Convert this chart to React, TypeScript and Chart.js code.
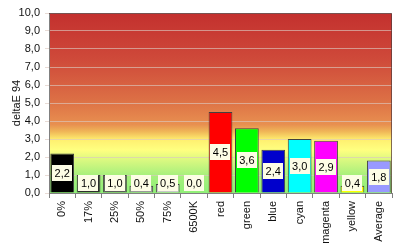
import React, { useEffect, useRef } from "react";
import { Chart, registerables } from "chart.js";

Chart.register(...registerables);

const categories = ["0%", "17%", "25%", "50%", "75%", "6500K", "red", "green", "blue", "cyan", "magenta", "yellow", "Average"];
const deltaE = [2.2, 1.0, 1.0, 0.4, 0.5, 0.0, 4.5, 3.6, 2.4, 3.0, 2.9, 0.4, 1.8];
const barColors = ["#000000", "#2e2e2e", "#5e5e5e", "#9a9a9a", "#c8c8c8", "#ffffff", "#ff0000", "#00ff00", "#0000cc", "#00ffff", "#ff00ff", "#ffff00", "#9999ff"];
const yMin = 0;
const yMax = 10;
const yStep = 1;
const yTitle = "deltaE 94";

// background gradient stops: [value, colour]
const bgStops: [number, string][] = [
  [10, "#c3302e"],
  [7.4, "#cf4a3a"],
  [5.2, "#dc6f45"],
  [3.8, "#e89050"],
  [3.4, "#f0b858"],
  [2.95, "#fff070"],
  [2.4, "#ffff80"],
  [1.8, "#d8f880"],
  [1.0, "#a8f07c"],
  [0, "#90f078"],
];

const fmt = (v: number) => v.toFixed(1).replace(".", ",");

const FONT = "'Liberation Sans', Arial, sans-serif";

const bgPlugin = {
  id: "bgGradient",
  beforeDraw(chart: any) {
    const { ctx, chartArea } = chart;
    const y = chart.scales.y;
    const top = chartArea.top;
    const bottom = chartArea.bottom;
    const g = ctx.createLinearGradient(0, top, 0, bottom);
    bgStops.forEach(([v, c]) => {
      const p = (y.getPixelForValue(v) - top) / (bottom - top);
      g.addColorStop(Math.min(1, Math.max(0, p)), c);
    });
    ctx.save();
    ctx.fillStyle = g;
    ctx.fillRect(chartArea.left, top, chartArea.right - chartArea.left, bottom - top);
    ctx.restore();
  },
  afterDatasetsDraw(chart: any) {
    const { ctx, chartArea } = chart;
    ctx.save();
    ctx.strokeStyle = "rgba(90,60,60,0.75)";
    ctx.lineWidth = 1;
    ctx.beginPath();
    ctx.moveTo(chartArea.left, chartArea.top + 0.5);
    ctx.lineTo(chartArea.right - 0.5, chartArea.top + 0.5);
    ctx.lineTo(chartArea.right - 0.5, chartArea.bottom);
    ctx.stroke();
    // value labels
    const meta = chart.getDatasetMeta(0);
    ctx.font = `11px ${FONT}`;
    ctx.textAlign = "center";
    ctx.textBaseline = "middle";
    meta.data.forEach((bar: any, i: number) => {
      const { x, y, base } = bar.getProps(["x", "y", "base"], true);
      const mid = (y + base) / 2;
      const cy = Math.min(mid, base - 10);
      const text = fmt(deltaE[i]);
      const w = ctx.measureText(text).width + 5;
      const h = 16;
      ctx.fillStyle = "#fdfde6";
      ctx.fillRect(Math.round(x - w / 2), Math.round(cy - h / 2), Math.round(w), h);
      ctx.fillStyle = "#000000";
      ctx.fillText(text, x, cy + 1);
    });
    ctx.restore();
  },
};

export default function App() {
  const ref = useRef<HTMLCanvasElement>(null);
  useEffect(() => {
    document.body.style.margin = "0";
    const chart = new Chart(ref.current!, {
      type: "bar",
      data: {
        labels: categories,
        datasets: [
          {
            data: deltaE,
            backgroundColor: barColors,
            borderColor: "#404040",
            borderWidth: 1,
            barPercentage: 0.9,
            categoryPercentage: 1,
          },
        ],
      },
      options: {
        animation: false,
        responsive: false,
        maintainAspectRatio: false,
        layout: { padding: { top: 13, right: 8, left: 10, bottom: 0 } },
        plugins: { legend: { display: false }, tooltip: { enabled: false } },
        scales: {
          x: {
            grid: { display: true, drawOnChartArea: false, drawTicks: true, tickLength: 5, color: "#808080", offset: true },
            border: { display: true, color: "#808080" },
            ticks: {
              minRotation: 90,
              maxRotation: 90,
              autoSkip: false,
              color: "#111111",
              font: { family: FONT, size: 11 },
              padding: 3,
            },
            afterFit: (s: any) => {
              s.height = 53;
            },
          },
          y: {
            min: yMin,
            max: yMax,
            grid: { color: "rgba(220,200,190,0.65)", drawTicks: true, tickLength: 4 },
            border: { display: true, color: "#808080" },
            ticks: {
              stepSize: yStep,
              color: "#111111",
              font: { family: FONT, size: 11 },
              padding: 5,
              callback: (v: any) => fmt(Number(v)),
            },
            title: { display: true, text: yTitle, color: "#111111", font: { family: FONT, size: 11 }, padding: 0 },
            afterFit: (s: any) => {
              s.width = 39;
            },
          },
        },
      },
      plugins: [bgPlugin],
    });
    return () => chart.destroy();
  }, []);
  return <canvas ref={ref} width={400} height={246} style={{ display: "block" }} />;
}
